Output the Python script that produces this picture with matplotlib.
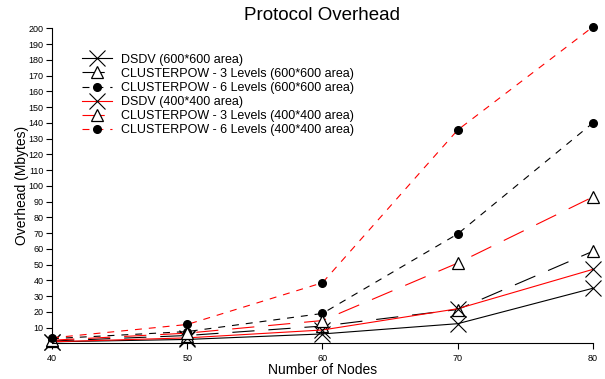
import matplotlib
matplotlib.use("Agg")
import matplotlib.pyplot as plt

plt.rcParams["font.family"] = ["Liberation Sans", "DejaVu Sans"]
plt.rcParams["lines.scale_dashes"] = False

nodes = [40, 50, 60, 70, 80]

dsdv_600 = [1, 2.5, 6, 12.5, 35]
cp3_600 = [1.5, 5, 11, 21.5, 58.5]
cp6_600 = [3, 7.5, 19, 69.5, 140]
dsdv_400 = [1, 3.5, 8.5, 22, 47]
cp3_400 = [2, 6.5, 14.5, 51, 93]
cp6_400 = [3.5, 12, 38.5, 135.5, 201]

labels = [
    "DSDV (600*600 area)",
    "CLUSTERPOW - 3 Levels (600*600 area)",
    "CLUSTERPOW - 6 Levels (600*600 area)",
    "DSDV (400*400 area)",
    "CLUSTERPOW - 3 Levels (400*400 area)",
    "CLUSTERPOW - 6 Levels (400*400 area)",
]

fig = plt.figure(figsize=(6.05, 3.79), dpi=100)
ax = fig.add_axes([0.086, 0.094, 0.894, 0.831])

long_dash = (0, (16, 10))
short_dash = (0, (5, 5))
lw = 0.8

series = [
    (dsdv_600, "black", "-", "x"),
    (cp3_600, "black", long_dash, "^"),
    (cp6_600, "black", short_dash, "o"),
    (dsdv_400, "red", "-", "x"),
    (cp3_400, "red", long_dash, "^"),
    (cp6_400, "red", short_dash, "o"),
]

for (vals, color, ls, mk), lab in zip(series, labels):
    if mk == "x":
        kw = dict(markersize=11, markeredgewidth=0.8, markeredgecolor="black")
    elif mk == "^":
        kw = dict(markersize=9, markeredgewidth=0.9, markeredgecolor="black",
                  markerfacecolor="white")
    else:
        kw = dict(markersize=5.5, markeredgecolor="black", markerfacecolor="black")
    ax.plot(nodes, vals, color=color, linestyle=ls, linewidth=lw,
            marker=mk, label=lab, clip_on=False, **kw)

ax.set_xlim(40, 80)
ax.set_ylim(0, 200)
ax.set_xticks(nodes)
ax.set_yticks(range(10, 201, 10))
ax.tick_params(axis="both", labelsize=6.5, width=0.8, length=4, pad=2)
ax.tick_params(axis="x", pad=4)
for side in ["top", "right"]:
    ax.spines[side].set_visible(False)
for side in ["left", "bottom"]:
    ax.spines[side].set_linewidth(0.8)

ax.set_title("Protocol Overhead", fontsize=13.5, pad=6)
ax.set_xlabel("Number of Nodes", fontsize=10, labelpad=0)
ax.set_ylabel("Overhead (Mbytes)", fontsize=10, labelpad=0)

ax.legend(loc="upper left", bbox_to_anchor=(0.125, 0.875),
          bbox_transform=fig.transFigure, frameon=False, fontsize=9,
          numpoints=1, handlelength=2.4, handletextpad=0.7,
          labelspacing=0.17, borderpad=0)

fig.savefig("out.png", dpi=100)
